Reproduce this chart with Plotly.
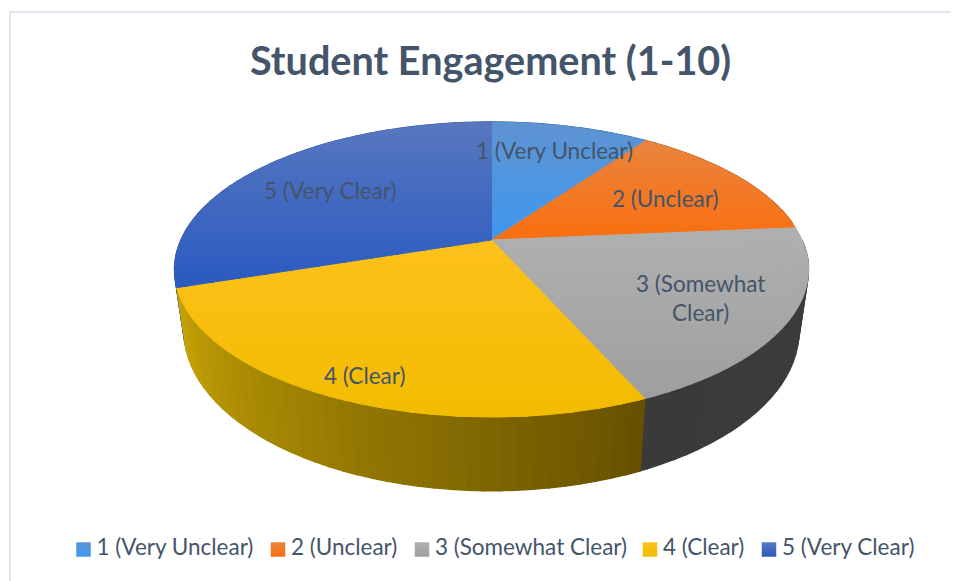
import numpy as np
import plotly.graph_objects as go

categories = ["1 (Very Unclear)", "2 (Unclear)", "3 (Somewhat Clear)", "4 (Clear)", "5 (Very Clear)"]
values = [9.8, 13.8, 19.8, 26.5, 30.1]
chart_title = "Student Engagement (1-10)"

# style: (gradient top, gradient bottom) of each top face, side colour (far end, near end)
TOP = [("#5f93d0", "#3f98f0"), ("#e9853f", "#fa6f10"), ("#b0b0b0", "#9f9f9f"),
       ("#fdc11c", "#f2bc00"), ("#5878c0", "#2a5ac0")]
SIDE = [("#24507f", "#24507f"), ("#8a4210", "#8a4210"), ("#3d3d3d", "#3a3a3a"),
        ("#665000", "#c9a506"), ("#334a80", "#334a80")]
LABELS = {0: (554, 150), 1: (665, 198), 2: (700, 298), 3: (364, 375), 4: (330, 190)}
LEGEND_X = [83.5, 278, 422, 650, 769]
FONT = "Lato"
INK = "#44546a"

CX, CY, A, B, K, D, S = 491.5, 240.0, 310.6, 141.6, 0.2, 59.0, 0.97


def top_pt(theta, r=1.0):
    X, Y = r * np.sin(theta), -r * np.cos(theta)
    w = 1 - K * Y
    return CX + A * X / w, CY + B * Y / w


def bottom_pt(theta):
    x, y = top_pt(theta)
    w = 1 + K * np.cos(theta)
    return CX + (x - CX) * S, y + D / w


def rgb(h):
    return np.array([int(h[i:i + 2], 16) for i in (1, 3, 5)], dtype=float)


def mix(a, b, t):
    c = rgb(a) * (1 - t) + rgb(b) * t
    return "rgb(%d,%d,%d)" % tuple(c.round())


def clip_half(poly, y0, keep_below):
    out = []
    n = len(poly)
    for i in range(n):
        p, q = poly[i], poly[(i + 1) % n]
        pin = p[1] >= y0 if keep_below else p[1] <= y0
        qin = q[1] >= y0 if keep_below else q[1] <= y0
        if pin:
            out.append(p)
        if pin != qin:
            t = (y0 - p[1]) / (q[1] - p[1])
            out.append((p[0] + t * (q[0] - p[0]), y0))
    return out


fig = go.Figure()


def fill(xs, ys, color, lw=1.4):
    fig.add_trace(go.Scatter(x=list(xs) + [xs[0]], y=list(ys) + [ys[0]], mode="lines", fill="toself",
                             fillcolor=color, line=dict(color=color, width=lw),
                             hoverinfo="skip", showlegend=False))


cum = np.cumsum([0] + values) / sum(values) * 2 * np.pi
# sides, far edges first so that nearer strips overlay them
front = []
for i in range(len(values)):
    a0, a1 = cum[i], cum[i + 1]
    step = np.radians(2.5)
    edges = np.arange(a0, a1, step).tolist() + [a1]
    for e0, e1 in zip(edges[:-1], edges[1:]):
        if np.sin(e0) > 0.99 and e1 < np.pi / 2:
            continue
        t = (0.5 * (e0 + e1) - a0) / (a1 - a0)
        front.append((abs(0.5 * (e0 + e1) - np.pi), e0, e1, mix(SIDE[i][0], SIDE[i][1], t)))
for _, e0, e1, col in sorted(front, key=lambda v: -v[0]):
    th = np.linspace(e0, e1, 5)
    tx, ty = top_pt(th)
    bx, by = bottom_pt(th)
    fill(np.r_[tx, bx[::-1]], np.r_[ty, by[::-1]], col)

# top faces with a vertical gradient, cut into horizontal bands
BAND = 4.0
for i in range(len(values)):
    th = np.linspace(cum[i], cum[i + 1], 90)
    ax, ay = top_pt(th)
    poly = [(CX, CY)] + list(zip(ax, ay))
    lo, hi = min(ay.min(), CY), max(ay.max(), CY)
    y = lo
    while y < hi:
        part = clip_half(clip_half(poly, y, True), y + BAND, False)
        if len(part) >= 3:
            t = (y + BAND / 2 - lo) / (hi - lo)
            fill([p[0] for p in part], [p[1] for p in part], mix(TOP[i][0], TOP[i][1], t), lw=1.0)
        y += BAND

# legend row
for i, name in enumerate(categories):
    fig.add_trace(go.Scatter(x=[LEGEND_X[i]], y=[549.5], mode="markers+text", text=["\u2009" + name],
                             textposition="middle right", name=name, showlegend=False, hoverinfo="skip",
                             textfont=dict(family=FONT, size=22.5, color=INK),
                             marker=dict(symbol="square", size=14.5, color=TOP[i][0],
                                         gradient=dict(type="vertical", color=TOP[i][1]))))

annotations = []
for i, name in enumerate(categories):
    txt = name.replace("3 (Somewhat Clear)", "3 (Somewhat<br>Clear)")
    annotations.append(dict(x=LABELS[i][0], y=LABELS[i][1], xref="x", yref="y", text=txt, showarrow=False,
                            font=dict(family=FONT, size=22.5, color=INK), align="center"))
annotations.append(dict(x=490, y=59, xref="x", yref="y", text="<b>%s</b>" % chart_title, showarrow=False,
                        font=dict(family=FONT, size=39.6, color=INK)))

# the page body adds 8px, so the figure covers pixels 8..959 and 8..581
fig.update_layout(
    width=951, height=573, margin=dict(l=0, r=0, t=0, b=0), paper_bgcolor="white", plot_bgcolor="white",
    showlegend=False, annotations=annotations,
    xaxis=dict(range=[8, 959], visible=False, domain=[0, 1], fixedrange=True),
    yaxis=dict(range=[581, 8], visible=False, domain=[0, 1], fixedrange=True),
    shapes=[dict(type="rect", xref="x", yref="y", x0=10, y0=12, x1=975, y1=600, layer="below",
                 line=dict(color="#e3e8f0", width=2))],
)
fig.write_html("out.html", config=dict(displayModeBar=False), default_width="951px", default_height="573px")
